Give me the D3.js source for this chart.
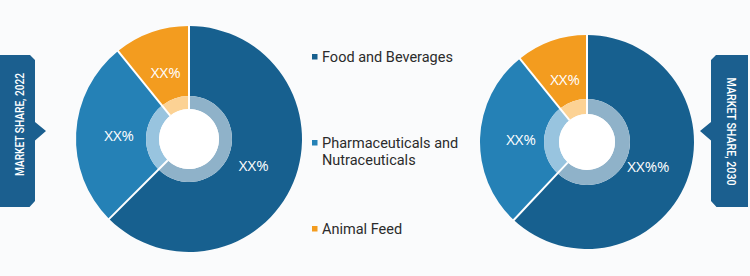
<!DOCTYPE html>
<html>
<head>
<meta charset="utf-8">
<script src="https://cdn.jsdelivr.net/npm/d3@7"></script>
<style>
  html, body { margin: 0; padding: 0; background: #fafbfc; }
  svg { display: block; }
</style>
</head>
<body>
<svg id="svg"></svg>
<script>
const categories = ["Food and Beverages", "Pharmaceuticals and Nutraceuticals", "Animal Feed"];
const legendLines = [["Food and Beverages"], ["Pharmaceuticals and", "Nutraceuticals"], ["Animal Feed"]];
const share2022 = [62.5, 26.7, 10.8];
const share2030 = [62.0, 27.2, 10.8];
const labels2022 = ["XX%", "XX%", "XX%"];
const labels2030 = ["XX%%", "XX%", "XX%"];
const tabTitles = ["MARKET SHARE, 2022", "MARKET SHARE, 2030"];

const colors = ["#17608f", "#2581b6", "#f39c1f"];
const lightColors = ["#8fb2c9", "#98c4df", "#fcd294"];

const width = 750, height = 276;

const svg = d3.select("#svg")
    .attr("width", width)
    .attr("height", height);

svg.append("rect")
    .attr("width", width)
    .attr("height", height)
    .attr("fill", "#fafbfc");

const color = d3.scaleOrdinal().domain(categories).range(colors);
const light = d3.scaleOrdinal().domain(categories).range(lightColors);

const pie = d3.pie().sort(null).value(d => d.value);

function donut(cx, cy, outer, ring, hole, labelR, values, labels) {
    let data = categories.map((c, i) => ({ cat: c, value: values[i], label: labels[i] }));
    let arcs = pie(data);
    let g = svg.append("g").attr("transform", "translate(" + cx + "," + cy + ")");

    let outerArc = d3.arc().innerRadius(ring).outerRadius(outer);
    let ringArc = d3.arc().innerRadius(hole).outerRadius(ring);
    let labelArc = d3.arc().innerRadius(labelR).outerRadius(labelR);

    g.selectAll("path.outer")
        .data(arcs)
        .join("path")
        .attr("class", "outer")
        .attr("d", outerArc)
        .attr("fill", d => color(d.data.cat));

    g.selectAll("path.ring")
        .data(arcs)
        .join("path")
        .attr("class", "ring")
        .attr("d", ringArc)
        .attr("fill", d => light(d.data.cat));

    // white separators between slices
    g.selectAll("line.sep")
        .data(arcs)
        .join("line")
        .attr("class", "sep")
        .attr("x1", d => Math.sin(d.startAngle) * hole)
        .attr("y1", d => -Math.cos(d.startAngle) * hole)
        .attr("x2", d => Math.sin(d.startAngle) * (outer + 1))
        .attr("y2", d => -Math.cos(d.startAngle) * (outer + 1))
        .attr("stroke", "#fff")
        .attr("stroke-width", 2);

    g.append("circle")
        .attr("r", hole)
        .attr("fill", "#fff");

    g.selectAll("text")
        .data(arcs)
        .join("text")
        .attr("transform", d => "translate(" + labelArc.centroid(d) + ")")
        .attr("text-anchor", "middle")
        .attr("dy", "0.35em")
        .attr("fill", "#fff")
        .attr("font-family", "'Open Sans', sans-serif")
        .attr("font-size", 15)
        .text(d => d.data.label);
}

donut(189, 139, 113, 43, 30, 70, share2022, labels2022);
donut(587, 142, 107, 43, 28, 66, share2030, labels2030);

// legend
const ly = d3.scalePoint().domain(categories).range([56.5, 228.5]);
const legend = svg.append("g");
categories.forEach((c, i) => {
    legend.append("rect")
        .attr("x", 312)
        .attr("y", ly(c) - 2.5)
        .attr("width", 5.5)
        .attr("height", 5.5)
        .attr("fill", color(c));
    legendLines[i].forEach((line, j) => {
        legend.append("text")
            .attr("x", 322)
            .attr("y", ly(c) + 5.5 + j * 17 - (legendLines[i].length > 1 ? 0.5 : 0))
            .attr("fill", "#2b2b2b")
            .attr("font-family", "Roboto, sans-serif")
            .attr("font-size", 14.5)
            .text(line);
    });
});

// side tabs
const tabColor = "#1b5f8f";
function tab(side, title) {
    let pts;
    if (side === "left") {
        pts = [[0, 55], [30, 55], [35, 60], [35, 122], [46, 131], [35, 140.5], [35, 201], [29.5, 207], [0, 207]];
    } else {
        pts = [[716, 55], [748, 55], [748, 207], [716.5, 207], [711, 201], [711, 140.5], [700, 131], [711, 122], [711, 60]];
    }
    svg.append("path")
        .attr("d", d3.line()(pts) + "Z")
        .attr("fill", tabColor);
    let x = side === "left" ? 19.5 : 731.5;
    let y = side === "left" ? 124.5 : 131.5;
    svg.append("text")
        .attr("transform", "translate(" + x + "," + y + ") rotate(" + (side === "left" ? -90 : 90) + ")")
        .attr("text-anchor", "middle")
        .attr("dy", "0.35em")
        .attr("fill", "#fff")
        .attr("font-family", "Roboto, sans-serif")
        .attr("font-weight", 500)
        .attr("font-size", 13)
        .attr("textLength", side === "left" ? 103 : 108)
        .attr("lengthAdjust", "spacingAndGlyphs")
        .text(title);
}
tab("left", tabTitles[0]);
tab("right", tabTitles[1]);
</script>
</body>
</html>
